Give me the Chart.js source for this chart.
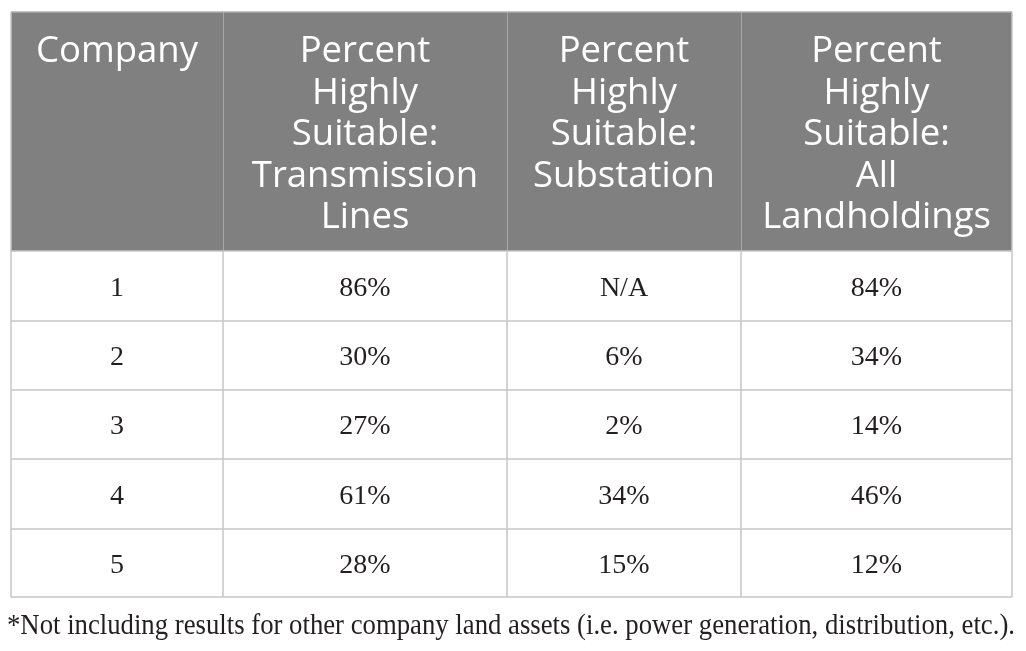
<!DOCTYPE html>
<html>
<head>
<meta charset="utf-8">
<script src="https://cdn.jsdelivr.net/npm/chart.js@4.4.1/dist/chart.umd.min.js"></script>
<style>
  html,body{margin:0;padding:0;background:#fff;}
  #wrap{width:1026px;height:651px;position:relative;}
</style>
</head>
<body>
<div id="wrap"><canvas id="tbl"></canvas></div>
<script>
// table content
const headers = [
  ['Company'],
  ['Percent','Highly','Suitable:','Transmission','Lines'],
  ['Percent','Highly','Suitable:','Substation'],
  ['Percent','Highly','Suitable:','All','Landholdings']
];
const companies = ['1','2','3','4','5'];
const transmission = [86, 30, 27, 61, 28];
const substation = [null, 6, 2, 34, 15];
const landholdings = [84, 34, 14, 46, 12];
const footnote = '*Not including results for other company land assets (i.e. power generation, distribution, etc.).';

// layout (in scale units, which map 1:1 to the 1026x651 frame)
const colEdges = [11, 223, 507, 741, 1012];
const rowEdges = [12, 251, 321, 390, 459, 529, 597];

const fmt = v => v === null ? 'N/A' : v + '%';
const columns = [companies, transmission.map(fmt), substation.map(fmt), landholdings.map(fmt)];

const tablePlugin = {
  id: 'tableDraw',
  afterDraw(chart) {
    const {ctx, scales:{x, y}} = chart;
    const X = v => x.getPixelForValue(v), Y = v => y.getPixelForValue(v);
    const L = X(colEdges[0]), R = X(colEdges[colEdges.length-1]);
    const T = Y(rowEdges[0]), H = Y(rowEdges[1]), B = Y(rowEdges[rowEdges.length-1]);
    ctx.save();

    // header band
    ctx.fillStyle = '#808080';
    ctx.fillRect(L, T, R-L, H-T);

    // header dividers
    ctx.strokeStyle = '#a6a6a6';
    ctx.lineWidth = 1;
    for (let i = 1; i < colEdges.length-1; i++) {
      const cx = Math.round(X(colEdges[i])) + 0.5;
      ctx.beginPath(); ctx.moveTo(cx, T); ctx.lineTo(cx, H); ctx.stroke();
    }

    // body grid
    ctx.strokeStyle = '#c6c6c6';
    ctx.lineWidth = 1.5;
    for (let r = 1; r < rowEdges.length; r++) {
      const ry = Y(rowEdges[r]);
      ctx.beginPath(); ctx.moveTo(L, ry); ctx.lineTo(R, ry); ctx.stroke();
    }
    for (let i = 0; i < colEdges.length; i++) {
      const cx = X(colEdges[i]);
      ctx.beginPath(); ctx.moveTo(cx, i === 0 || i === colEdges.length-1 ? T : H); ctx.lineTo(cx, B); ctx.stroke();
    }
    ctx.strokeStyle = '#b0b0b0';
    ctx.beginPath(); ctx.moveTo(L, T); ctx.lineTo(R, T); ctx.stroke();

    // header text
    ctx.fillStyle = '#ffffff';
    ctx.font = '36.5px "Open Sans", sans-serif';
    ctx.textAlign = 'center';
    ctx.textBaseline = 'alphabetic';
    headers.forEach((lines, i) => {
      const cx = (X(colEdges[i]) + X(colEdges[i+1])) / 2;
      lines.forEach((t, k) => ctx.fillText(t, cx, T + 50 + k*41.5));
    });

    // body text
    ctx.fillStyle = '#231f20';
    ctx.font = '28px "Liberation Serif", "Times New Roman", serif';
    columns.forEach((vals, i) => {
      const cx = (X(colEdges[i]) + X(colEdges[i+1])) / 2;
      vals.forEach((t, r) => {
        const cy = (Y(rowEdges[r+1]) + Y(rowEdges[r+2])) / 2;
        ctx.fillText(t, cx, cy + 9.5);
      });
    });

    // footnote, squeezed to the table's printed width
    ctx.font = '29px "Liberation Serif", "Times New Roman", serif';
    ctx.textAlign = 'left';
    const w = ctx.measureText(footnote).width;
    const target = X(1015) - X(7);
    ctx.translate(X(7), Y(634));
    ctx.scale(Math.min(1, target / w), 1);
    ctx.fillText(footnote, 0, 0);
    ctx.restore();
  }
};

new Chart(document.getElementById('tbl').getContext('2d'), {
  type: 'scatter',
  data: { datasets: [{ data: [] }] },
  options: {
    responsive: true, maintainAspectRatio: false, animation: false,
    layout: { padding: 0 },
    plugins: { legend: { display: false }, tooltip: { enabled: false } },
    scales: {
      x: { type: 'linear', min: 0, max: 1026, display: false },
      y: { type: 'linear', min: 0, max: 651, reverse: true, display: false }
    }
  },
  plugins: [tablePlugin]
});
</script>
</body>
</html>
